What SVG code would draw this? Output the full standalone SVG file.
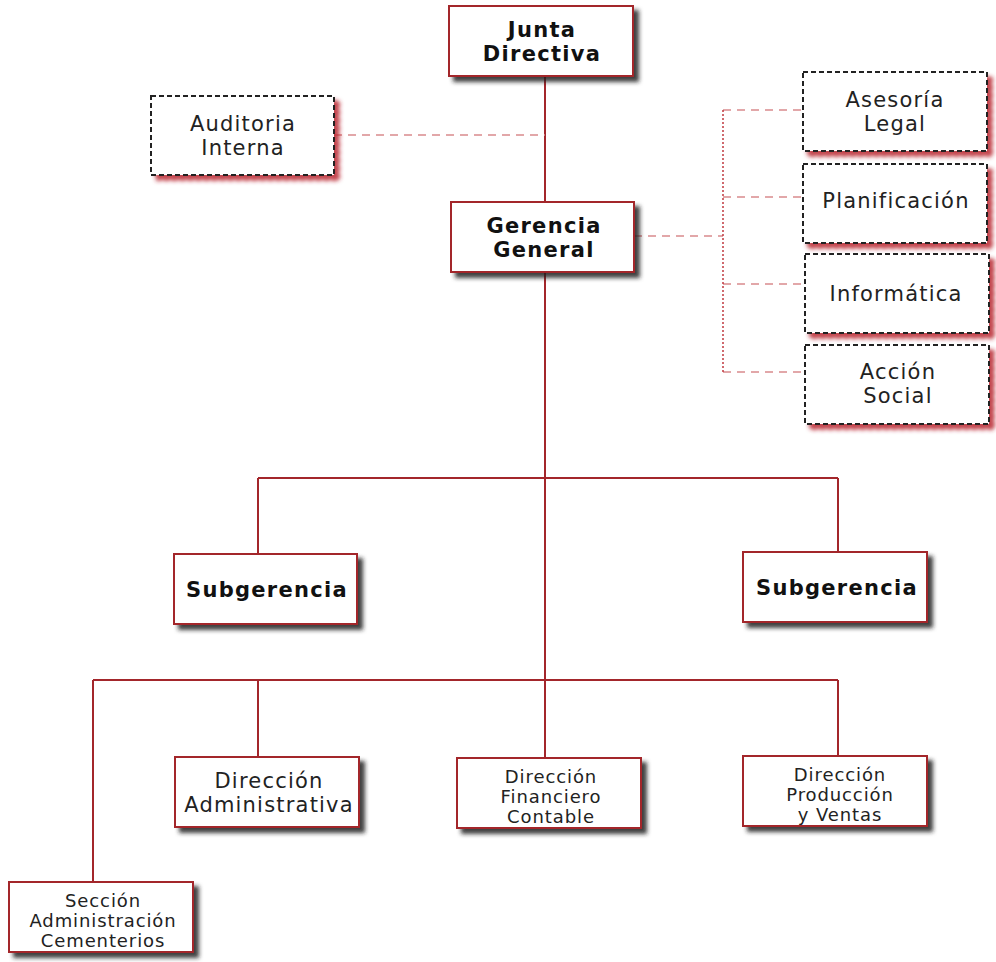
<svg xmlns="http://www.w3.org/2000/svg" width="996" height="962" viewBox="0 0 996 962">
<defs>
<filter id="sd" x="-10%" y="-10%" width="130%" height="140%"><feDropShadow dx="5" dy="5" stdDeviation="2" flood-color="#222" flood-opacity="0.85"/></filter>
<filter id="sr" x="-10%" y="-10%" width="130%" height="140%"><feDropShadow dx="5" dy="5" stdDeviation="2" flood-color="#b8262e" flood-opacity="0.85"/></filter>
<style>
.box{fill:#fff;stroke:#a3262b;stroke-width:2;filter:url(#sd)}
.dbox{fill:#fff;stroke:#222;stroke-width:2;stroke-dasharray:5 3;filter:url(#sr)}
.t{font-family:"DejaVu Sans",Verdana,sans-serif;fill:#222;text-anchor:middle}
.b{font-weight:bold;font-size:21px;letter-spacing:1.3px;fill:#111}
.m{font-size:21px;letter-spacing:1.2px}
.s{font-size:18px;letter-spacing:0.9px}
.ln{stroke:#a3262b;stroke-width:2;fill:none}
.dl{stroke:#d98a8d;stroke-width:1.5;stroke-dasharray:8 6;fill:none}
.dv{stroke:#c0393f;stroke-width:1.5;stroke-dasharray:2 2;fill:none}
</style>
</defs>
<g id="connectors">
<path class="ln" d="M545 76V202M545 272V758M258 478H838M258 478V554M838 478V552M93 680H838M93 680V882M258 680V757M838 680V756"/>
<path class="dl" d="M334 135H545M634 236H723M723 110H803M723 197H803M723 284H805M723 372H805"/>
<path class="dv" d="M723 110V372"/>
</g>
<g id="junta"><rect class="box" x="449" y="6" width="184" height="70"/><text class="t b" x="542" y="37">Junta</text><text class="t b" x="542" y="61">Directiva</text></g>
<g id="auditoria"><rect class="dbox" x="151" y="96" width="183" height="79"/><text class="t m" x="243" y="131">Auditoria</text><text class="t m" x="243" y="155">Interna</text></g>
<g id="gerencia"><rect class="box" x="451" y="202" width="183" height="70"/><text class="t b" x="544" y="233">Gerencia</text><text class="t b" x="544" y="257">General</text></g>
<g id="asesoria"><rect class="dbox" x="803" y="72" width="184" height="79"/><text class="t m" x="895" y="107">Asesoría</text><text class="t m" x="895" y="131">Legal</text></g>
<g id="planificacion"><rect class="dbox" x="803" y="164" width="184" height="79"/><text class="t m" x="896" y="208">Planificación</text></g>
<g id="informatica"><rect class="dbox" x="805" y="254" width="184" height="79"/><text class="t m" x="896" y="301">Informática</text></g>
<g id="accion"><rect class="dbox" x="805" y="345" width="184" height="79"/><text class="t m" x="898" y="379">Acción</text><text class="t m" x="898" y="403">Social</text></g>
<g id="subgerencia1"><rect class="box" x="174" y="554" width="183" height="70"/><text class="t b" x="267" y="597">Subgerencia</text></g>
<g id="subgerencia2"><rect class="box" x="743" y="552" width="184" height="70"/><text class="t b" x="837" y="595">Subgerencia</text></g>
<g id="dir-admin"><rect class="box" x="175" y="757" width="184" height="70"/><text class="t m" x="269" y="788">Dirección</text><text class="t m" x="269" y="812">Administrativa</text></g>
<g id="dir-fin"><rect class="box" x="457" y="758" width="184" height="70"/><text class="t s" x="551" y="783">Dirección</text><text class="t s" x="551" y="803">Financiero</text><text class="t s" x="551" y="823">Contable</text></g>
<g id="dir-prod"><rect class="box" x="743" y="756" width="184" height="70"/><text class="t s" x="840" y="781">Dirección</text><text class="t s" x="840" y="801">Producción</text><text class="t s" x="840" y="821">y Ventas</text></g>
<g id="seccion"><rect class="box" x="9" y="882" width="184" height="70"/><text class="t s" x="103" y="907">Sección</text><text class="t s" x="103" y="927">Administración</text><text class="t s" x="103" y="947">Cementerios</text></g>
</svg>
